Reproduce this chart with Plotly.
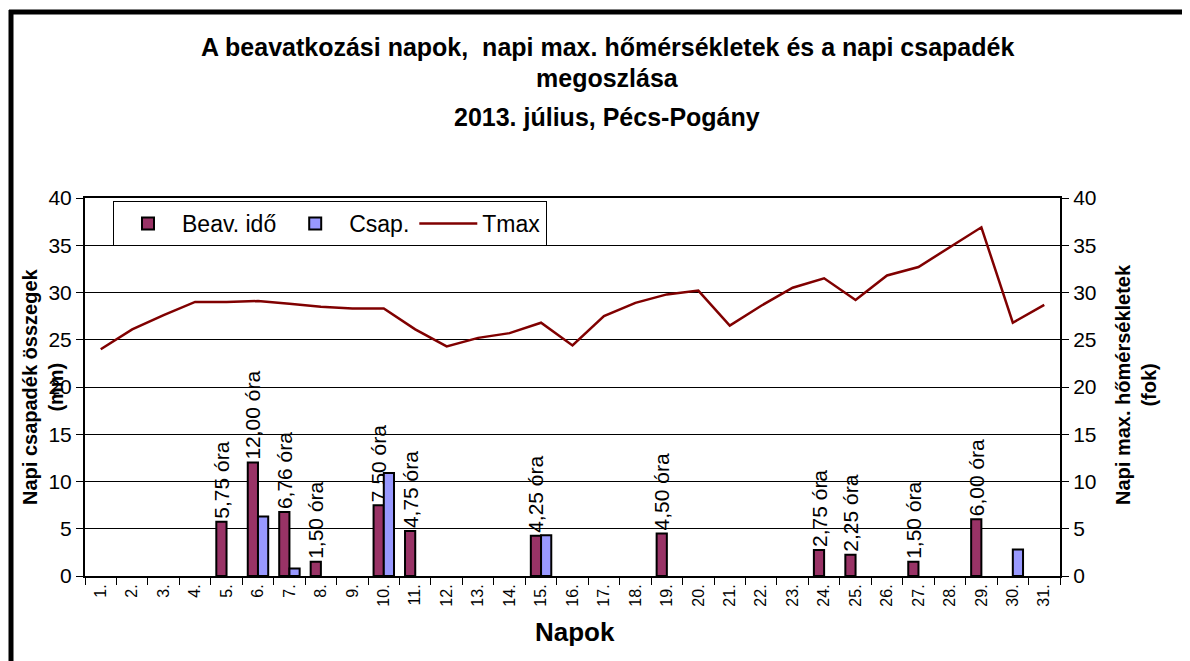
import plotly.graph_objects as go

## DATA
days = [f"{d}." for d in range(1, 32)]
beav = [None, None, None, None, 5.75, 12.0, 6.76, 1.5, None, 7.5, 4.75, None, None, None, 4.25,
        None, None, None, 4.5, None, None, None, None, 2.75, 2.25, None, 1.5, None, 6.0, None, None]
csap = [None, None, None, None, None, 6.3, 0.8, None, None, 10.9, None, None, None, None, 4.3,
        None, None, None, None, None, None, None, None, None, None, None, None, None, None, 2.8, None]
tmax = [24.0, 26.1, 27.6, 29.0, 29.0, 29.1, 28.8, 28.5, 28.3, 28.3, 26.1, 24.3, 25.2, 25.7, 26.8,
        24.4, 27.5, 28.9, 29.8, 30.2, 26.5, 28.6, 30.5, 31.5, 29.2, 31.8, 32.7, 34.8, 36.9, 26.8, 28.7]

# bar labels like "5,75 óra"
beav_txt = [f"{v:.2f} óra".replace(".", ",") if v else "" for v in beav]

FONT = "Liberation Sans, Arial, sans-serif"

fig = go.Figure()
fig.add_trace(go.Bar(
    x=days, y=beav, name="Beav. idő",
    marker=dict(color="#993366", line=dict(color="black", width=2)),
    text=beav_txt, textposition="outside", textangle=-90,
    textfont=dict(size=21, color="black", family=FONT),
    constraintext="none", cliponaxis=False))
fig.add_trace(go.Bar(
    x=days, y=csap, name="Csap.",
    marker=dict(color="#9999FF", line=dict(color="black", width=2))))
fig.add_trace(go.Scatter(
    x=days, y=tmax, name="Tmax", mode="lines", yaxis="y2",
    line=dict(color="#800000", width=2.5)))

# page body has an 8px margin, so screen coords are shifted
OFF = 8
W, H = 1190 - OFF, 661 - OFF
H_TOP, H_PLOT = 198 - OFF, 378
W_L, W_PLOT = 85 - OFF, 975
def px_y(py):
    return 1 + (H_TOP - (py - OFF)) / H_PLOT
def px_x(px):
    return ((px - OFF) - W_L) / W_PLOT

titles = [("A beavatkozási napok,  napi max. hőmérsékletek és a napi csapadék", 47),
          ("megoszlása", 78),
          ("2013. július, Pécs-Pogány", 117)]
annots = []
for t, py in titles:
    annots.append(dict(text="<b>" + t + "</b>", x=px_x(607), y=px_y(py), xref="paper", yref="paper",
                       showarrow=False, font=dict(size=25, family=FONT, color="black"),
                       xanchor="center", yanchor="middle"))
annots.append(dict(text="<b>Napi csapadék összegek<br>(mm)</b>", x=px_x(43), y=px_y(387),
                   xref="paper", yref="paper", showarrow=False, textangle=-90,
                   font=dict(size=20, family=FONT, color="black"), xanchor="center", yanchor="middle"))
annots.append(dict(text="<b>Napi max. hőmérsékletek<br>(fok)</b>", x=px_x(1136), y=px_y(385),
                   xref="paper", yref="paper", showarrow=False, textangle=-90,
                   font=dict(size=20, family=FONT, color="black"), xanchor="center", yanchor="middle"))
annots.append(dict(text="<b>Napok</b>", x=px_x(575), y=px_y(632), xref="paper", yref="paper",
                   showarrow=False, font=dict(size=26, family=FONT, color="black"),
                   xanchor="center", yanchor="middle"))

fig.update_layout(
    width=W, height=H,
    margin=dict(l=W_L, r=W - W_L - W_PLOT, t=H_TOP, b=H - H_TOP - H_PLOT),
    paper_bgcolor="white", plot_bgcolor="white",
    font=dict(family=FONT, color="black"),
    barmode="group", bargap=0.35, bargroupgap=0,
    showlegend=True,
    legend=dict(orientation="h", x=px_x(113), y=px_y(201), xanchor="left", yanchor="top",
                bordercolor="black", borderwidth=1, bgcolor="white",
                font=dict(size=23, family=FONT), tracegroupgap=0, itemwidth=58),
    annotations=annots,
    shapes=[
        dict(type="line", xref="paper", yref="paper", x0=px_x(11), x1=px_x(11),
             y0=px_y(10), y1=px_y(700), line=dict(color="black", width=5)),
        dict(type="line", xref="paper", yref="paper", x0=px_x(9), x1=px_x(1200),
             y0=px_y(12), y1=px_y(12), line=dict(color="black", width=5)),
    ],
    xaxis=dict(type="category", tickangle=-90, tickfont=dict(size=16, family=FONT),
               showline=True, linecolor="black", linewidth=2, mirror=True,
               ticks="outside", ticklen=7, tickcolor="black", tickson="boundaries",
               showgrid=False),
    yaxis=dict(range=[0, 40], dtick=5, tickfont=dict(size=21, family=FONT),
               showline=True, linecolor="black", linewidth=2, mirror=True,
               ticks="outside", ticklen=7, tickcolor="black",
               showgrid=True, gridcolor="black", gridwidth=1, zeroline=False),
    yaxis2=dict(range=[0, 40], dtick=5, overlaying="y", side="right",
                tickfont=dict(size=21, family=FONT), showline=True, linecolor="black",
                linewidth=2, ticks="outside", ticklen=7, tickcolor="black",
                showgrid=False, zeroline=False),
)

fig.write_html("out.html")
